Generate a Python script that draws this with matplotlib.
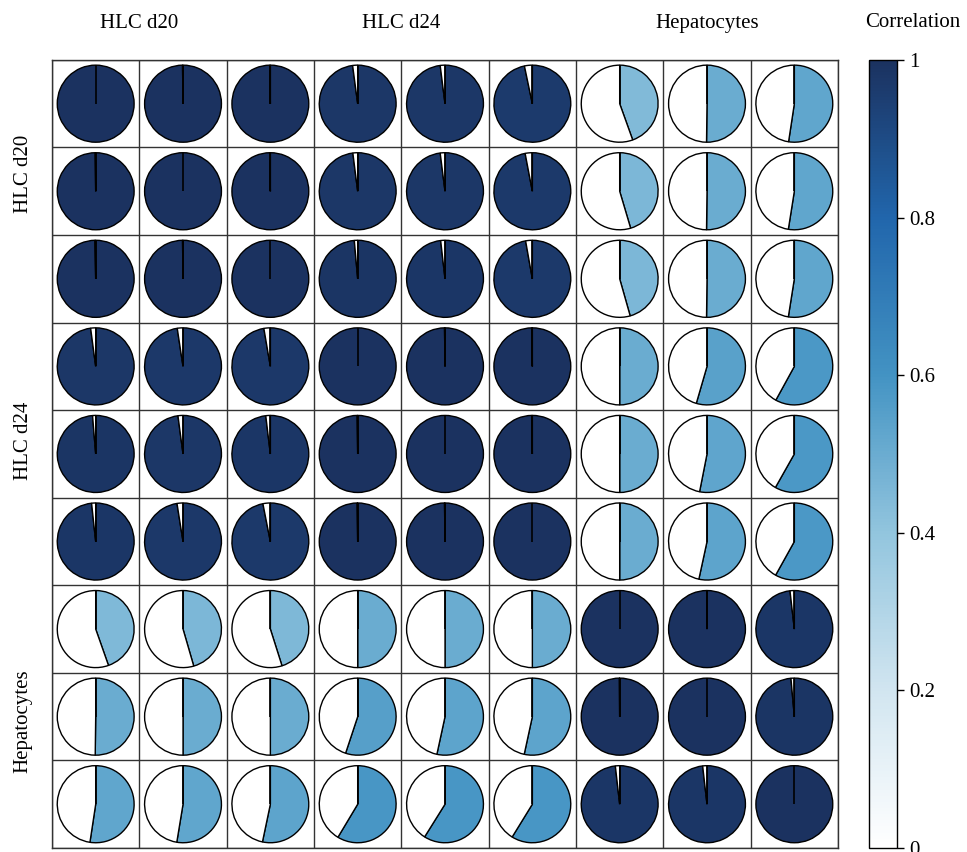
import matplotlib
matplotlib.use("Agg")
import matplotlib.pyplot as plt
from matplotlib.patches import Wedge
from matplotlib.colors import LinearSegmentedColormap
from matplotlib.colorbar import ColorbarBase
from matplotlib.colors import Normalize

plt.rcParams['font.family'] = ['Liberation Serif', 'DejaVu Serif']

# sample groups (3 replicates each)
groups = ["HLC d20", "HLC d24", "Hepatocytes"]

# correlation matrix (row by row)
row_1 = [1.000, 0.998, 0.998, 0.979, 0.980, 0.967, 0.445, 0.502, 0.524]
row_2 = [0.998, 1.000, 0.998, 0.980, 0.980, 0.970, 0.454, 0.502, 0.525]
row_3 = [0.997, 0.998, 1.000, 0.986, 0.982, 0.972, 0.456, 0.502, 0.525]
row_4 = [0.979, 0.976, 0.973, 1.000, 0.998, 0.998, 0.500, 0.545, 0.580]
row_5 = [0.987, 0.979, 0.981, 0.998, 1.000, 0.998, 0.500, 0.531, 0.582]
row_6 = [0.983, 0.975, 0.969, 0.998, 0.998, 1.000, 0.500, 0.534, 0.581]
row_7 = [0.446, 0.455, 0.451, 0.500, 0.500, 0.500, 1.000, 0.999, 0.982]
row_8 = [0.502, 0.500, 0.500, 0.551, 0.534, 0.534, 0.999, 1.000, 0.986]
row_9 = [0.524, 0.526, 0.533, 0.586, 0.589, 0.588, 0.982, 0.982, 1.000]
corr = [row_1, row_2, row_3, row_4, row_5, row_6, row_7, row_8, row_9]

cbar_ticks = [0, 0.2, 0.4, 0.6, 0.8, 1]
cbar_labels = ["0", "0.2", "0.4", "0.6", "0.8", "1"]

# blue half of the corrplot palette
cmap = LinearSegmentedColormap.from_list(
    "corr", ["#FFFFFF", "#D1E5F0", "#92C5DE", "#4393C3", "#2166AC", "#1B3260"])
norm = Normalize(0, 1)

fig = plt.figure(figsize=(9.67, 8.52), dpi=100)
ax = fig.add_axes([0.0538, 0.0047, 0.8128, 0.925])

n = len(corr)
radius = 0.44
for i, row in enumerate(corr):
    for j, r in enumerate(row):
        cx, cy = j + 0.5, i + 0.5
        ang = 360 * r
        # y axis is inverted, so counter-clockwise in data is clockwise on screen
        ax.add_patch(Wedge((cx, cy), radius, -90, -90 + ang,
                           facecolor=cmap(norm(r)), edgecolor='black', lw=1.0))
        if r < 1:
            ax.add_patch(Wedge((cx, cy), radius, -90 + ang, 270,
                               facecolor='white', edgecolor='black', lw=1.0))
        # radius to 12 o'clock
        ax.plot([cx, cx], [cy, cy - radius], color='black', lw=1.2,
                solid_capstyle='butt')

for k in range(n + 1):
    ax.axhline(k, color='#333333', lw=1.0)
    ax.axvline(k, color='#333333', lw=1.0)

ax.set_xlim(0, n)
ax.set_ylim(n, 0)
ax.set_xticks([])
ax.set_yticks([])
for s in ax.spines.values():
    s.set_color('#333333')
    s.set_linewidth(1.0)

# group labels
top_pos = [1.0, 4.0, 7.5]
left_pos = [1.3, 4.35, 7.55]
for g, xp in zip(groups, top_pos):
    ax.text(xp, -0.42, g, ha='center', va='center', fontsize=15)
for g, yp in zip(groups, left_pos):
    ax.text(-0.33, yp, g, ha='center', va='center', rotation=90, fontsize=15)

# colour bar
cax = fig.add_axes([0.8986, 0.0047, 0.029, 0.925])
cb = ColorbarBase(cax, cmap=cmap, norm=norm, orientation='vertical')
cb.set_ticks(cbar_ticks)
cb.set_ticklabels(cbar_labels)
cb.outline.set_linewidth(1.0)
cax.tick_params(labelsize=15, length=5, width=1)
cax.text(1.55, 1.048, "Correlation", transform=cax.transAxes,
         ha='center', va='center', fontsize=15)

fig.savefig("out.png", dpi=100)
